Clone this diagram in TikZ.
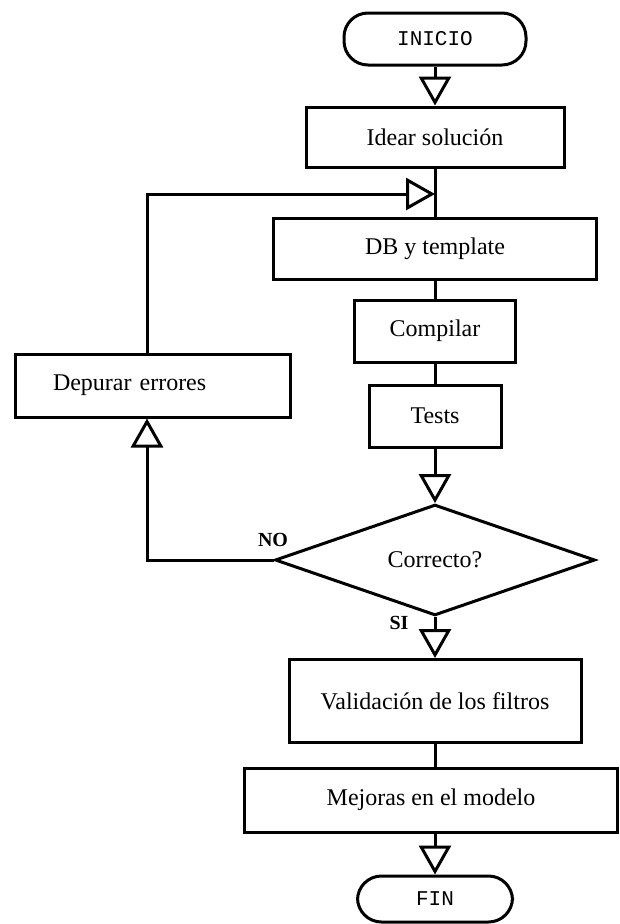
\documentclass[tikz,border=0pt]{standalone}
\usepackage{fontspec}
\setmainfont{Liberation Serif}
\setmonofont{Liberation Mono}
\usetikzlibrary{arrows.meta,shapes.geometric}
\begin{document}
\begin{tikzpicture}[x=1pt,y=-1pt,line width=3pt,
  proceso/.style={draw,rectangle,inner sep=0pt,font=\fontsize{24}{28}\selectfont},
  terminal/.style={draw,rectangle,rounded corners=24pt,inner sep=0pt,font=\ttfamily\fontsize{21}{24}\selectfont},
  decision/.style={draw,diamond,inner sep=0pt,font=\fontsize{24}{28}\selectfont},
  flecha/.style={-{Triangle[open,length=29pt,width=32pt]}},
  rotulo/.style={font=\bfseries\fontsize{20}{24}\selectfont}]
\useasboundingbox (0,0) rectangle (619,924);
%\draw[very thin,color=gray,step=50] (0,0) grid (619,924);
\node[terminal,minimum width=182,minimum height=52] (inicio) at (435,39) {INICIO};
\node[proceso,minimum width=258,minimum height=60] (idear) at (435,137) {Idear soluci\'on};
\node[proceso,minimum width=323,minimum height=61] (db) at (435,249) {DB y template};
\node[proceso,minimum width=161,minimum height=62] (compilar) at (435,331) {Compilar};
\node[proceso,minimum width=132,minimum height=62] (tests) at (435,416) {Tests};
\node[decision,minimum width=320,minimum height=106] (correcto) at (435,560) {Correcto?};
\node[proceso,minimum width=292,minimum height=83] (valid) at (435,701) {Validaci\'on de los filtros};
\node[proceso,minimum width=373,minimum height=64] (mejoras) at (431,800) {Mejoras en el modelo};
\node[terminal,minimum width=155,minimum height=46] (fin) at (435,899) {FIN};
\node[proceso,minimum width=275,minimum height=63,align=left,text width=199,inner xsep=38] (depurar) at (152.5,385.5) {Depurar errores};
\coordinate (retorno) at (147,194);
\draw[flecha] (inicio.south) -- (idear.north);
\draw (idear.south) -- (db.north);
\draw (db.south) -- (compilar.north);
\draw (compilar.south) -- (tests.north);
\draw[flecha] (tests.south) -- (correcto.north);
\draw[flecha] (correcto.south) -- (valid.north);
\draw (valid.south) -- (valid.south |- mejoras.north);
\draw[flecha] (fin.north |- mejoras.south) -- (fin.north);
\draw[flecha] (correcto.west) -| (retorno |- depurar.south);
\draw[flecha] (retorno |- depurar.north) |- (idear.south |- retorno);
\node[rotulo] (no) at (273,540) {NO};
\node[rotulo] (si) at (399,623) {SI};
\end{tikzpicture}
\end{document}
